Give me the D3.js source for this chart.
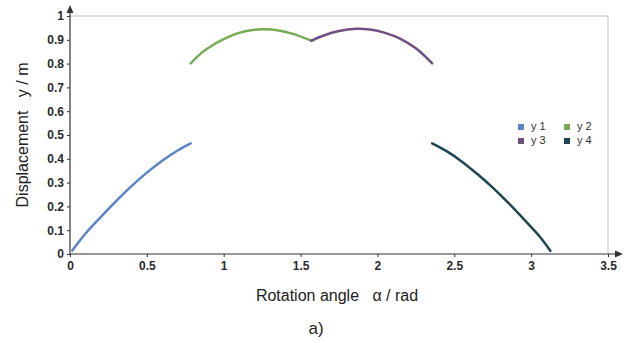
<!DOCTYPE html>
<html>
<head>
<meta charset="utf-8">
<script src="https://cdn.jsdelivr.net/npm/d3@7"></script>
<style>
  body { margin: 0; background: #fff; }
  svg { display: block; font-family: "Liberation Sans", Arial, sans-serif; }
</style>
</head>
<body>
<div id="chart"></div>
<script>
// angle (rad) and displacement (m)
const a1 = [0.015, 0.1, 0.2, 0.3, 0.4, 0.5, 0.6, 0.7, 0.785];
const y1 = [0.015, 0.085, 0.155, 0.222, 0.285, 0.342, 0.392, 0.435, 0.465];
const a2 = [0.785, 0.85, 0.93, 1.0, 1.1, 1.2, 1.26, 1.35, 1.45, 1.571];
const y2 = [0.801, 0.842, 0.878, 0.903, 0.929, 0.942, 0.944, 0.94, 0.925, 0.896];
const a3 = [1.571, 1.65, 1.75, 1.86, 1.95, 2.05, 2.15, 2.25, 2.356];
const y3 = [0.896, 0.918, 0.937, 0.946, 0.943, 0.929, 0.904, 0.864, 0.801];
const a4 = [2.356, 2.45, 2.55, 2.65, 2.75, 2.85, 2.95, 3.05, 3.125];
const y4 = [0.465, 0.432, 0.388, 0.336, 0.279, 0.216, 0.148, 0.078, 0.014];

const seriesNames = ['y 1', 'y 2', 'y 3', 'y 4'];
const seriesColors = ['#5b84c6', '#78ab56', '#6f5080', '#1d4552'];
const xTicks = [0, 0.5, 1, 1.5, 2, 2.5, 3, 3.5];

const width = 633, height = 343;
const svg = d3.select('#chart').append('svg')
  .attr('width', width)
  .attr('height', height);

const x = d3.scaleLinear().domain([0, 3.5]).range([70, 608]);
const y = d3.scaleLinear().domain([0, 1]).range([254, 16]);

// frame lines (top + right)
svg.append('line')
  .attr('x1', x(0)).attr('x2', x(3.5))
  .attr('y1', y(1)).attr('y2', y(1))
  .attr('stroke', '#bdbdbd');
svg.append('line')
  .attr('x1', x(3.5)).attr('x2', x(3.5))
  .attr('y1', y(1)).attr('y2', y(0))
  .attr('stroke', '#bdbdbd');

// axes
const xAxis = svg.append('g')
  .attr('transform', `translate(0,${y(0)})`)
  .call(d3.axisBottom(x).tickValues(xTicks).tickSize(3).tickPadding(3).tickFormat(d3.format('~g')));
const yAxis = svg.append('g')
  .attr('transform', `translate(${x(0)},0)`)
  .call(d3.axisLeft(y).ticks(10).tickSize(3).tickPadding(3).tickFormat(d3.format('~g')));

[xAxis, yAxis].forEach(g => {
  g.select('.domain').remove();
  g.selectAll('line').attr('stroke', '#333');
  g.selectAll('text')
    .attr('fill', '#2a2a2a')
    .attr('font-size', 12)
    .attr('font-weight', 'bold')
    .attr('font-family', '"Liberation Sans", Arial, sans-serif');
});
xAxis.selectAll('text').attr('dy', '0.85em');

// axis lines with arrows
svg.append('line')
  .attr('x1', x(0)).attr('x2', 617)
  .attr('y1', y(0)).attr('y2', y(0))
  .attr('stroke', '#333').attr('stroke-width', 1.2);
svg.append('path')
  .attr('d', `M623,${y(0)} L615,${y(0) - 3.5} L615,${y(0) + 3.5} Z`)
  .attr('fill', '#333');
svg.append('line')
  .attr('x1', x(0)).attr('x2', x(0))
  .attr('y1', y(0)).attr('y2', 12)
  .attr('stroke', '#333').attr('stroke-width', 1.2);
svg.append('path')
  .attr('d', `M${x(0)},5 L${x(0) - 3.5},13 L${x(0) + 3.5},13 Z`)
  .attr('fill', '#333');

// series
const series = [[a1, y1], [a2, y2], [a3, y3], [a4, y4]].map(([a, v], i) => ({
  name: seriesNames[i],
  color: seriesColors[i],
  pts: a.map((d, j) => [d, v[j]])
}));

const line = d3.line()
  .x(d => x(d[0]))
  .y(d => y(d[1]))
  .curve(d3.curveCatmullRom.alpha(0.5));

svg.append('g')
  .attr('fill', 'none')
  .attr('stroke-width', 2.5)
  .attr('stroke-linecap', 'round')
.selectAll('path')
  .data(series)
  .join('path')
    .attr('stroke', d => d.color)
    .attr('d', d => line(d.pts));

// legend
const legend = svg.append('g')
  .selectAll('g')
  .data(series)
  .join('g')
    .attr('transform', (d, i) => `translate(${518 + (i % 2) * 46},${124 + Math.floor(i / 2) * 14})`);
legend.append('rect')
  .attr('width', 6).attr('height', 6)
  .attr('fill', d => d.color);
legend.append('text')
  .attr('x', 13).attr('y', 6)
  .attr('font-size', 11)
  .attr('fill', '#333')
  .text(d => d.name);

// titles
svg.append('text')
  .attr('x', 337).attr('y', 301)
  .attr('text-anchor', 'middle')
  .attr('font-size', 16)
  .attr('fill', '#222')
  .style('white-space', 'pre')
  .text('Rotation angle   α / rad');
svg.append('text')
  .attr('transform', 'translate(28,135) rotate(-90)')
  .attr('text-anchor', 'middle')
  .attr('font-size', 16)
  .attr('fill', '#222')
  .style('white-space', 'pre')
  .text('Displacement   y / m');
svg.append('text')
  .attr('x', 316).attr('y', 334)
  .attr('text-anchor', 'middle')
  .attr('font-size', 17)
  .attr('fill', '#222')
  .text('a)');
</script>
</body>
</html>
